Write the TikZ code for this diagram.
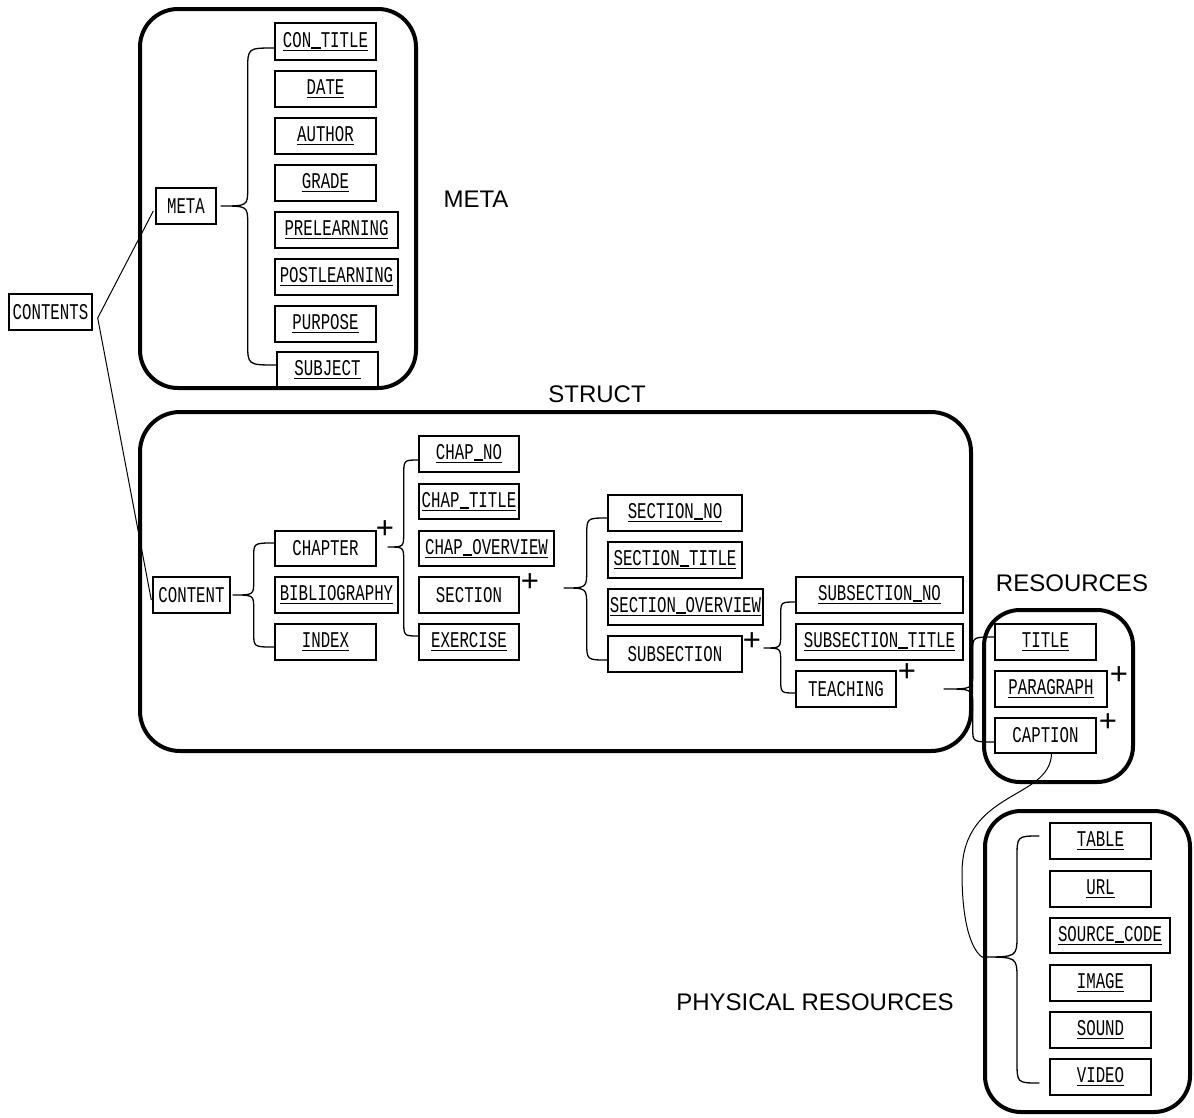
\documentclass[tikz,border=0pt]{standalone}
\usepackage{fontspec}
\usetikzlibrary{calc}
\newfontfamily\boxfontfam[FakeStretch=0.7]{Liberation Mono}
\newfontfamily\labfam{Liberation Sans}
\newcommand\boxfont{\boxfontfam\fontsize{22.5}{26}\selectfont}
\newcommand\labfont{\labfam\fontsize{24}{28}\selectfont}
\newcommand\plusfont{\labfam\fontsize{31}{34}\selectfont}
\newcommand\us{\rule[-1.2pt]{9.45pt}{1.6pt}}
\newcommand\uln[1]{\setbox0\hbox{#1}\rlap{\rule[-3.4pt]{\wd0}{1.1pt}}\box0}
\tikzset{
  entity/.style={draw, line width=1.4pt, inner sep=0pt, font=\boxfont},
  groupbox/.style={draw, line width=4pt, inner sep=0pt},
  conn/.style={line width=1.3pt},
  thinconn/.style={line width=1pt},
  grouplabel/.style={inner sep=0pt, font=\labfont},
  plus/.style={inner sep=0pt, font=\plusfont}
}
\newcommand\bx[6]{\node[entity, minimum width={(#4-#2)*1pt}, minimum height={(#5-#3)*1pt}] (#1) at ({(#2+#4)/2},{(#3+#5)/2}) {#6};}
\newcommand\gbx[6]{\node[groupbox, rounded corners=#6pt, minimum width={(#4-#2)*1pt}, minimum height={(#5-#3)*1pt}] (#1) at ({(#2+#4)/2},{(#3+#5)/2}) {};}
% brace: #1 tip, #2 top end, #3 bottom end, #4 horizontal offset, #5 tip curve, #6 end curve
\newcommand\cbr[6]{%
  \draw[conn] let \p1=(#1),\p2=(#2),\p3=(#3) in
    (\p2) .. controls (\x1+#4pt,\y2) .. (\x1+#4pt,\y2-#6pt)
    -- (\x1+#4pt,\y1+#5pt) .. controls (\x1+#4pt,\y1) .. (\p1)
    .. controls (\x1+#4pt,\y1) .. (\x1+#4pt,\y1-#5pt)
    -- (\x1+#4pt,\y3+#6pt) .. controls (\x1+#4pt,\y3) .. (\p3);}
\begin{document}
\begin{tikzpicture}[x=1pt,y=-1pt]
\useasboundingbox (0,0) rectangle (1194,1117);
% group boxes
\gbx{metabox}{140}{9}{416}{388}{38}
\gbx{structbox}{140}{412}{971}{751}{40}
\gbx{resbox}{984}{610}{1133}{782}{36}
\gbx{physbox}{985}{811}{1190}{1112}{36}
% group labels
\node[grouplabel] (lmeta) at (476,199) {META};
\node[grouplabel] (lstruct) at (597,394) {STRUCT};
\node[grouplabel] (lres) at (1072,583) {RESOURCES};
\node[grouplabel] (lphys) at (815,1002.5) {PHYSICAL RESOURCES};
% entities
\bx{contents}{9}{294}{92}{330}{CONTENTS}
\bx{meta}{156}{188}{216}{224}{META}
\bx{contitle}{275}{23}{376}{60}{\uln{CON\us TITLE}}
\bx{date}{275}{71}{376}{107}{\uln{DATE}}
\bx{author}{275}{118}{376}{154}{\uln{AUTHOR}}
\bx{grade}{275}{165}{376}{201}{\uln{GRADE}}
\bx{prelearning}{275}{212}{398}{248}{\uln{PRELEARNING}}
\bx{postlearning}{275}{259}{398}{295}{\uln{POSTLEARNING}}
\bx{purpose}{275}{306}{376}{342}{\uln{PURPOSE}}
\bx{subject}{277}{352}{378}{388}{\uln{SUBJECT}}
\bx{content}{153}{577}{230}{613}{CONTENT}
\bx{chapter}{275}{531}{376}{566}{CHAPTER}
\bx{biblio}{275}{577}{398}{613}{\uln{BIBLIOGRAPHY}}
\bx{index}{275}{624}{376}{660}{\uln{INDEX}}
\bx{chapno}{419}{436}{519}{472}{\uln{CHAP\us NO}}
\bx{chaptitle}{419}{484}{519}{519}{\uln{CHAP\us TITLE}}
\bx{chapoverview}{419}{531}{554}{566}{\uln{CHAP\us OVERVIEW}}
\bx{section}{419}{577}{519}{613}{SECTION}
\bx{exercise}{419}{624}{519}{660}{\uln{EXERCISE}}
\bx{sectionno}{608}{495}{742}{531}{\uln{SECTION\us NO}}
\bx{sectiontitle}{608}{542}{742}{578}{\uln{SECTION\us TITLE}}
\bx{sectionoverview}{608}{589}{763}{625}{\uln{SECTION\us OVERVIEW}}
\bx{subsection}{608}{636}{742}{672}{SUBSECTION}
\bx{subsectionno}{796}{577}{963}{613}{\uln{SUBSECTION\us NO}}
\bx{subsectiontitle}{796}{624}{963}{660}{\uln{SUBSECTION\us TITLE}}
\bx{teaching}{796}{671}{896}{707}{TEACHING}
\bx{title}{995}{624}{1096}{660}{\uln{TITLE}}
\bx{paragraph}{995}{671}{1107}{707}{\uln{PARAGRAPH}}
\bx{caption}{995}{718}{1096}{753}{CAPTION}
\bx{table}{1050}{823}{1151}{859}{\uln{TABLE}}
\bx{url}{1050}{871}{1151}{907}{\uln{URL}}
\bx{sourcecode}{1050}{918}{1170}{953}{\uln{SOURCE\us CODE}}
\bx{image}{1050}{965}{1151}{1001}{\uln{IMAGE}}
\bx{sound}{1050}{1012}{1151}{1048}{\uln{SOUND}}
\bx{video}{1050}{1059}{1151}{1095}{\uln{VIDEO}}
% plus marks
\node[plus] (pchapter) at (385,530) {+};
\node[plus] (psection) at (530,583) {+};
\node[plus] (psubsection) at (752,642) {+};
\node[plus] (pteaching) at (907,673) {+};
\node[plus] (pparagraph) at (1119,676) {+};
\node[plus] (pcaption) at (1108,723) {+};
% connectors from CONTENTS
\coordinate (cjoin) at ($(contents.east)+(5,6)$);
\draw[thinconn] ($(meta.west)+(-2,5)$) -- (cjoin) -- ($(content.west)+(-1,5)$);
% brace tips
\coordinate (tmeta) at ($(meta.east)+(4,0)$);
\coordinate (tcontent) at ($(content.east)+(2,0)$);
\coordinate (tchapter) at ($(chapter.east)+(11,-1.5)$);
\coordinate (tsection) at ($(section.east)+(44,-7)$);
\coordinate (tsubsection) at ($(subsection.east)+(21,-6)$);
\coordinate (tteaching) at ($(teaching.east)+(47,0)$);
\coordinate (tphys) at ($(physbox.west)+(-1,-4.5)$);
% braces
\cbr{tmeta}{$(contitle.west)+(0,6.5)$}{$(subject.west)+(0,-5)$}{27}{18}{22}
\cbr{tcontent}{$(chapter.west)+(0,-5.5)$}{$(index.west)+(0,5)$}{21}{14}{14}
\cbr{tchapter}{$(chapno.west)+(0,6)$}{$(exercise.west)+(0,-6)$}{16}{14}{16}
\cbr{tsection}{$(sectionno.west)+(0,5)$}{$(subsection.west)+(0,6)$}{23}{18}{18}
\cbr{tsubsection}{$(subsectionno.west)+(0,7)$}{$(teaching.west)+(0,4)$}{17}{14}{14}
\cbr{tteaching}{$(title.west)+(0,-5)$}{$(caption.west)+(0,6.5)$}{29}{16}{14}
\cbr{tphys}{$(table.west)+(-10,-5)$}{$(video.west)+(-10,6)$}{35}{22}{22}
% caption to physical resources
\draw[thinconn] ($(caption.south)+(6,0)$) .. controls (1050,800) and (962,790) .. (962,873)
  .. controls (962,925) and (972,950) .. (tphys);
\end{tikzpicture}
\end{document}
